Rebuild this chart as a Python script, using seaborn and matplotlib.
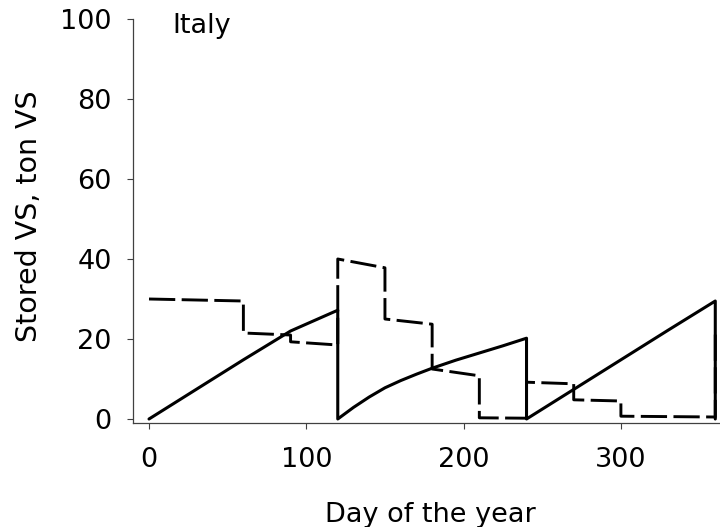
"""Stored VS over the year, Italy: two storage strategies."""

import numpy as np
import pandas as pd
import seaborn as sns
import matplotlib.pyplot as plt

# ── Data ──────────────────────────────────────────────────────────────────────

# continuous storage, emptied every 120 days
solid_day = [0, 30, 60, 90, 120,
             120, 130, 140, 150, 160, 170, 180, 195, 210, 225, 240,
             240, 270, 300, 330, 360, 360]
solid_vs = [0, 7.4, 14.8, 22.0, 27.2,
            0, 2.9, 5.5, 7.8, 9.6, 11.2, 12.7, 14.7, 16.5, 18.3, 20.2,
            0, 7.4, 14.8, 22.2, 29.5, 0]

# monthly stock
dash_day = [0, 60, 60, 90, 90, 120, 120, 150, 150, 180, 180, 210, 210,
            240, 240, 240, 270, 270, 300, 300, 360, 360]
dash_vs = [30.0, 29.5, 21.5, 21.0, 19.3, 18.5, 40.0, 37.8, 25.0, 23.7, 12.5, 10.8, 0.3,
           0.2, 16.5, 9.2, 8.8, 4.8, 4.5, 0.7, 0.5, 22.0]

x_ticks = [0, 100, 200, 300]
y_ticks = [0, 20, 40, 60, 80, 100]

COUNTRY = 'Italy'

# ── Style ─────────────────────────────────────────────────────────────────────

sns.set_theme(style='ticks')
plt.rcParams.update({
    'font.family': ['DejaVu Sans'],
    'font.size': 19.5,
    'text.color': 'black',
    'axes.labelcolor': 'black',
    'axes.edgecolor': '#404040',
    'axes.linewidth': 0.9,
    'xtick.color': '#404040',
    'ytick.color': '#404040',
    'xtick.labelcolor': 'black',
    'ytick.labelcolor': 'black',
    'xtick.major.size': 4.5,
    'ytick.major.size': 4.5,
    'xtick.major.width': 0.8,
    'ytick.major.width': 0.8,
})

fig = plt.figure(figsize=(7.2, 5.27), dpi=100)
ax = fig.add_axes([0.1851, 0.19734, 0.8302, 0.76660])

solid = pd.DataFrame({'day': solid_day, 'vs': solid_vs})
dashed = pd.DataFrame({'day': dash_day, 'vs': dash_vs})

sns.lineplot(data=solid, x='day', y='vs', sort=False, estimator=None,
             color='black', linewidth=2.2, ax=ax)
sns.lineplot(data=dashed, x='day', y='vs', sort=False, estimator=None,
             color='black', linewidth=2.1, linestyle=(0, (9, 2.2)), ax=ax)

ax.set_xlim(-10, 370)
ax.set_ylim(-1, 100)
ax.set_xticks(x_ticks)
ax.set_yticks(y_ticks)
ax.tick_params(axis='x', labelsize=19.5, pad=12.5)
ax.tick_params(axis='y', labelsize=19.5, pad=11)
sns.despine(ax=ax)

ax.set_xlabel('Day of the year', fontsize=19.5)
ax.xaxis.label.set_va('baseline')
ax.xaxis.set_label_coords(0.4964, -0.2443)
ax.set_ylabel('Stored VS, ton VS', fontsize=20.5)
ax.yaxis.label.set_va('baseline')
ax.yaxis.set_label_coords(-0.161, 0.513)

ax.text(14.6, 96.5, COUNTRY, fontsize=19.5, ha='left', va='baseline', clip_on=False)

fig.savefig('out.png', dpi=100)
